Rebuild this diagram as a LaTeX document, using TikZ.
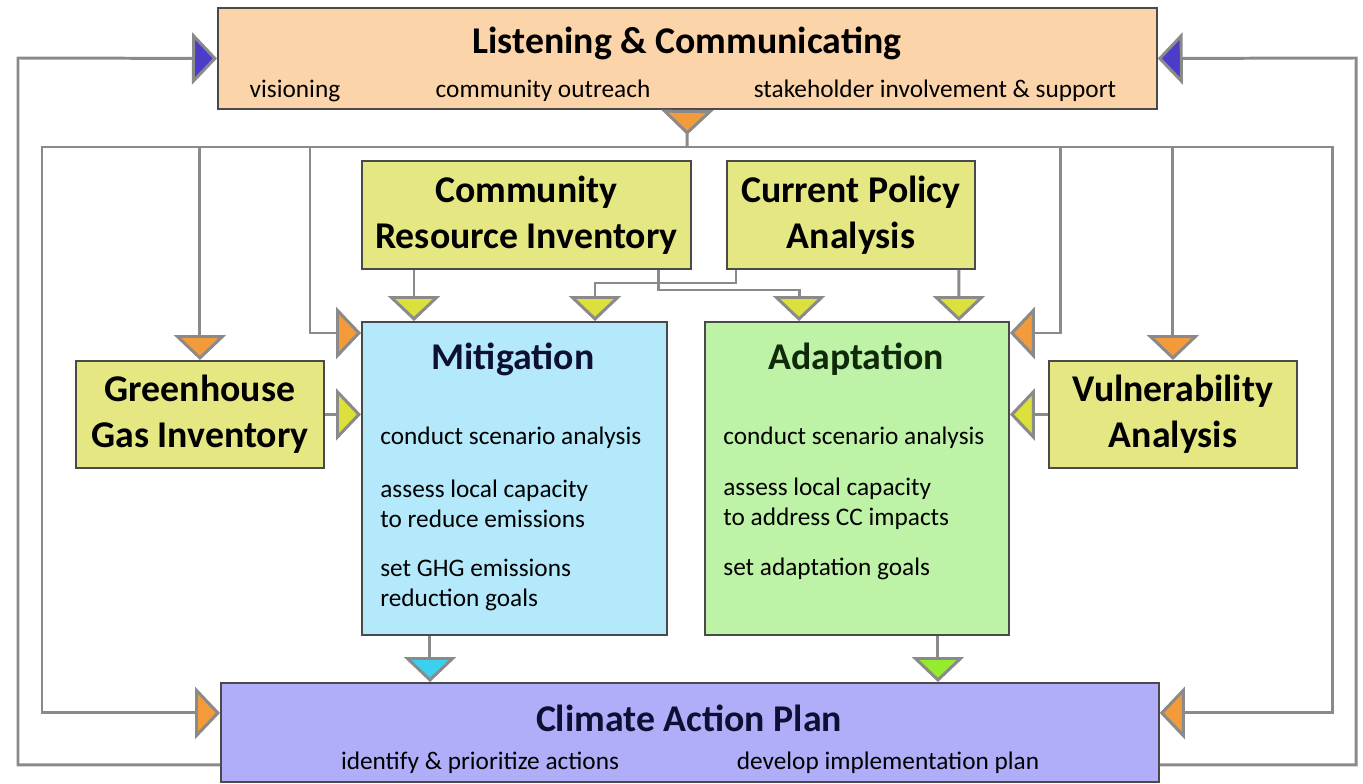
\documentclass[tikz,border=0pt]{standalone}
\usepackage{fontspec}
\setmainfont{Carlito}
\usetikzlibrary{arrows.meta}
\definecolor{peach}{HTML}{FCD4AA}
\definecolor{olive}{HTML}{E5E882}
\definecolor{skyfill}{HTML}{B3E9FA}
\definecolor{leaffill}{HTML}{BDF2A7}
\definecolor{lavfill}{HTML}{B0AEF9}
\definecolor{orangetri}{HTML}{F39A3A}
\definecolor{bluetri}{HTML}{4C3CC8}
\definecolor{yellowtri}{HTML}{DCE03C}
\definecolor{cyantri}{HTML}{3DD0EE}
\definecolor{greentri}{HTML}{95EC2F}
\definecolor{linkgray}{HTML}{8A8A8A}
\definecolor{boxline}{HTML}{4A4A4A}
\definecolor{mitnavy}{HTML}{0D1033}
\definecolor{adagreen}{HTML}{0F2A0A}

\begin{document}
\begin{tikzpicture}[x=0.02cm,y=-0.02cm,
  box/.style={draw=boxline,line width=1.1pt,anchor=north west,inner sep=0pt,align=center},
  head/.style={font=\fontsize{21.5}{24}\selectfont\bfseries},
  boxhead/.style={font=\fontsize{21.5}{26}\selectfont\bfseries,align=center},
  subtxt/.style={font=\fontsize{14.4}{17}\selectfont},
  item/.style={font=\fontsize{14.4}{17}\selectfont,anchor=west,align=left,inner sep=0pt},
  link/.style={draw=linkgray,line width=1.7pt},
  tipO/.style={-{Triangle[width=1.04cm,length=0.5cm,fill=orangetri]}},
  tipB/.style={-{Triangle[width=1.04cm,length=0.5cm,fill=bluetri]}},
  tipY/.style={-{Triangle[width=1.04cm,length=0.5cm,fill=yellowtri]}},
  tipC/.style={-{Triangle[width=1.04cm,length=0.5cm,fill=cyantri]}},
  tipG/.style={-{Triangle[width=1.04cm,length=0.5cm,fill=greentri]}}]
\useasboundingbox (0,0) rectangle (1363,784);

\node[box,fill=peach,minimum width=18.78cm,minimum height=2.02cm] (lc) at (217,7) {};
\node[box,fill=olive,minimum width=6.58cm,minimum height=2.16cm,boxhead] (cri) at (361,160) {Community\\Resource Inventory};
\node[box,fill=olive,minimum width=4.96cm,minimum height=2.16cm,boxhead] (cpa) at (726,160) {Current Policy\\Analysis};
\node[box,fill=olive,minimum width=4.96cm,minimum height=2.14cm,boxhead] (ggi) at (75,360) {Greenhouse\\Gas Inventory};
\node[box,fill=olive,minimum width=4.96cm,minimum height=2.14cm,boxhead] (vul) at (1048,360) {Vulnerability\\Analysis};
\node[box,fill=skyfill,minimum width=6.10cm,minimum height=6.26cm] (mit) at (361,321) {};
\node[box,fill=leaffill,minimum width=6.08cm,minimum height=6.26cm] (ada) at (704,321) {};
\node[box,fill=lavfill,minimum width=18.76cm,minimum height=1.98cm] (cap) at (220,682) {};

\node[head] (lctitle) at (687,43) {Listening \& Communicating};
\node[subtxt] (vis) at (295,91) {visioning};
\node[subtxt] (outr) at (543,91) {community outreach};
\node[subtxt] (stake) at (935,91) {stakeholder involvement \& support};

\node[head,text=mitnavy] (mittitle) at (513,359) {Mitigation};
\node[item] (m1) at (380,438) {conduct scenario analysis};
\node[item] (m2) at (380,504) {assess local capacity\\to reduce emissions};
\node[item] (m3) at (380,585) {set GHG emissions\\reduction goals};

\node[head,text=adagreen] (adatitle) at (856,359) {Adaptation};
\node[item] (a1) at (723,438) {conduct scenario analysis};
\node[item] (a2) at (723,504) {assess local capacity\\to address CC impacts};
\node[item] (a3) at (723,569) {set adaptation goals};

\node[head,text=mitnavy] (captitle) at (689,718) {Climate Action Plan};
\node[subtxt] (ident) at (480,763) {identify \& prioritize actions};
\node[subtxt] (devel) at (888,763) {develop implementation plan};

\coordinate (fbL) at (18,58);
\coordinate (fbR) at (1356,58);
\coordinate (busT) at (687,147);
\coordinate (busL) at (42,147);
\coordinate (busR) at (1332,147);
\coordinate (dropM) at (310,147);
\coordinate (dropA) at (1060,147);
\coordinate (kinkA) at (595,283);
\coordinate (kinkB) at (799,290);

\draw[link,tipB] ([yshift=0.36cm]cap.south west) -| (fbL) -- (lc.west);
\draw[link,tipB] ([yshift=0.36cm]cap.south east) -| (fbR) -- (lc.east);
\draw[link,{Triangle[reversed,width=1.04cm,length=0.5cm,fill=orangetri]}-] (lc.south) -- (busT);
\draw[link,tipO] (busT) -- (busL) |- ([yshift=0.39cm]cap.west);
\draw[link,tipO] (busT) -- (busR) |- ([yshift=0.39cm]cap.east);
\draw[link,tipO] (ggi.north |- busT) -- (ggi.north);
\draw[link,tipO] (vul.north |- busT) -- (vul.north);
\draw[link,tipO] (dropM) |- ([yshift=-0.24cm]mit.north west);
\draw[link,tipO] (dropA) |- ([yshift=-0.24cm]ada.north east);

\draw[link,tipY] (ggi.east) -- (ggi.east -| mit.west);
\draw[link,tipY] (vul.west) -- (vul.west -| ada.east);
\draw[link,tipY] ([xshift=1.06cm]cri.south west) -- ([xshift=1.06cm]mit.north west);
\draw[link,tipY] ([xshift=0.2cm]cpa.south west) |- (kinkA) -- (kinkA |- mit.north);
\draw[link,tipY] ([xshift=-0.66cm]cri.south east) |- (kinkB) -- (kinkB |- ada.north);
\draw[link,tipY] ([xshift=-0.34cm]cpa.south east) -- ([xshift=-1.02cm]ada.north east);

\draw[link,tipC] ([xshift=1.38cm]mit.south west) coordinate (mo) -- (mo |- cap.north);
\draw[link,tipG] ([xshift=4.68cm]ada.south west) coordinate (ao) -- (ao |- cap.north);
\end{tikzpicture}
\end{document}
